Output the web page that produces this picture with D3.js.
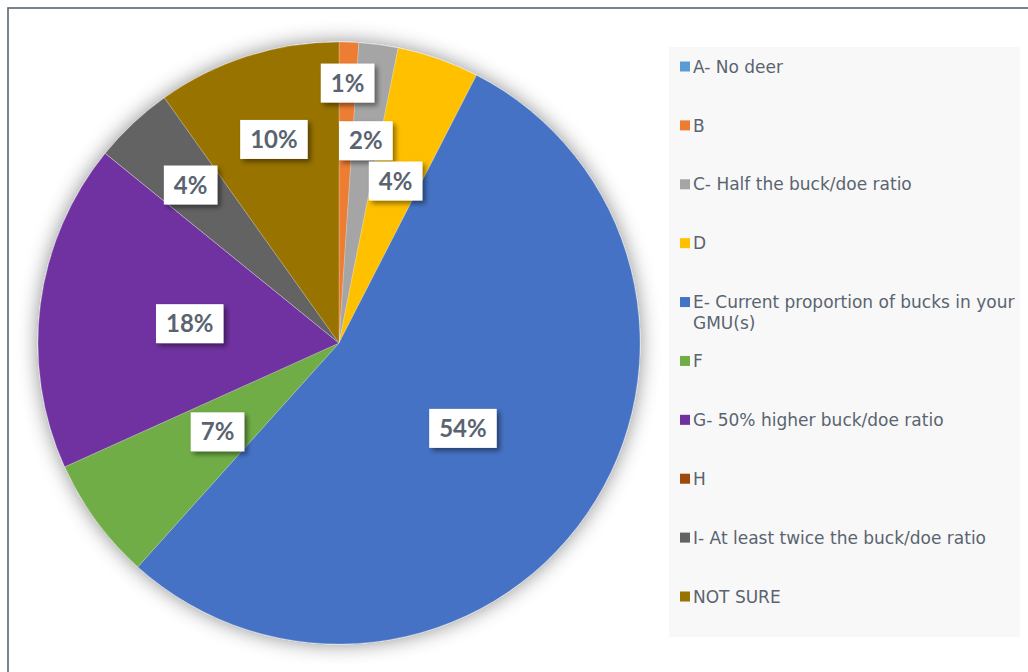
<!DOCTYPE html>
<html>
<head>
<meta charset="utf-8">
<script src="https://cdn.jsdelivr.net/npm/d3@7"></script>
<style>
  html, body { margin: 0; padding: 0; background: #fff; }
  svg { display: block; }
</style>
</head>
<body>
<svg id="chart" width="1028" height="672"></svg>
<script>
// ---- data ----
const categories = [
  "A- No deer",
  "B",
  "C- Half the buck/doe ratio",
  "D",
  "E- Current proportion of bucks in your GMU(s)",
  "F",
  "G- 50% higher buck/doe ratio",
  "H",
  "I- At least twice the buck/doe ratio",
  "NOT SURE"
];
const values = [0, 1.05, 2.1, 4.4, 54.1, 6.6, 17.6, 0, 4.3, 9.85];
const labels = ["", "1%", "2%", "4%", "54%", "7%", "18%", "", "4%", "10%"];
const colors = ["#5B9BD5", "#ED7D31", "#A5A5A5", "#FFC000", "#4472C4",
                "#70AD47", "#7030A0", "#9E480E", "#636363", "#997300"];

// ---- layout (label distance from centre as fraction of radius) ----
const labelRadiusFrac = [0.5, 0.864, 0.678, 0.57, 0.5, 0.5, 0.5, 0.5, 0.72, 0.71];

const svg = d3.select("#chart");
const cx = 339, cy = 343, R = 301;
const textColor = "#5a6470";

const defs = svg.append("defs");
const pieShadow = defs.append("filter").attr("id", "pieShadow")
  .attr("x", "-20%").attr("y", "-20%").attr("width", "140%").attr("height", "140%");
pieShadow.append("feDropShadow").attr("dx", 0).attr("dy", 0)
  .attr("stdDeviation", 10).attr("flood-color", "#000").attr("flood-opacity", 0.45);

const lblShadow = defs.append("filter").attr("id", "lblShadow")
  .attr("x", "-30%").attr("y", "-30%").attr("width", "160%").attr("height", "160%");
lblShadow.append("feDropShadow").attr("dx", 3).attr("dy", 3)
  .attr("stdDeviation", 2.5).attr("flood-color", "#000").attr("flood-opacity", 0.45);

// frame
svg.append("rect").attr("x", 8).attr("y", 8).attr("width", 1100).attr("height", 1000)
  .attr("fill", "none").attr("stroke", "#5a6470").attr("stroke-width", 1.6);

// pie
const pie = d3.pie().sort(null).value(d => d.v);
const data = categories.map((c, i) => ({ c, v: values[i], lbl: labels[i], col: colors[i], i }));
const arcs = pie(data);
const arc = d3.arc().innerRadius(0).outerRadius(R);

const g = svg.append("g").attr("transform", `translate(${cx},${cy})`);
g.append("g").attr("filter", "url(#pieShadow)")
  .selectAll("path").data(arcs).join("path")
  .attr("d", arc)
  .attr("fill", d => d.data.col)
  .attr("stroke", "#ffffff").attr("stroke-width", 0.5).attr("stroke-opacity", 0.45);

// labels
const lg = g.append("g");
arcs.filter(d => d.data.lbl).forEach(d => {
  const rr = R * labelRadiusFrac[d.data.i];
  const la = d3.arc().innerRadius(rr).outerRadius(rr);
  const [x, y] = la.centroid(d);
  const grp = lg.append("g").attr("transform", `translate(${x},${y})`);
  const t = grp.append("text")
    .attr("text-anchor", "middle").attr("dy", "0.36em")
    .attr("font-family", "Lato, 'Open Sans', sans-serif")
    .attr("font-weight", 700).attr("font-size", 24)
    .attr("fill", textColor).text(d.data.lbl);
  const w = t.node().getComputedTextLength();
  const bw = w + 20, bh = 39;
  grp.insert("rect", "text")
    .attr("x", -bw / 2).attr("y", -bh / 2).attr("width", bw).attr("height", bh)
    .attr("fill", "#fff").attr("filter", "url(#lblShadow)");
});

// legend
const legX = 669, legY = 47, legW = 351, legH = 590;
svg.append("rect").attr("x", legX).attr("y", legY).attr("width", legW).attr("height", legH)
  .attr("fill", "#f8f8f8");
const legendFont = 17;
const rowY = d3.scaleLinear().domain([0, categories.length - 1]).range([66.5, 596.5]);
const leg = svg.append("g");
categories.forEach((c, i) => {
  const y = rowY(i);
  leg.append("rect").attr("x", 680).attr("y", y - 5).attr("width", 10).attr("height", 10)
    .attr("fill", colors[i]);
  const t = leg.append("text")
    .attr("x", 693).attr("y", y)
    .attr("dy", "0.36em")
    .attr("font-family", "'DejaVu Sans', sans-serif")
    .attr("font-size", legendFont).attr("fill", textColor);
  // wrap
  const words = c.split(" ");
  let line = [];
  let tspan = t.append("tspan").attr("x", 693);
  words.forEach(wd => {
    line.push(wd);
    tspan.text(line.join(" "));
    if (tspan.node().getComputedTextLength() > 325 && line.length > 1) {
      line.pop();
      tspan.text(line.join(" "));
      line = [wd];
      tspan = t.append("tspan").attr("x", 693).attr("dy", "1.2em").text(wd);
    }
  });
});
</script>
</body>
</html>
